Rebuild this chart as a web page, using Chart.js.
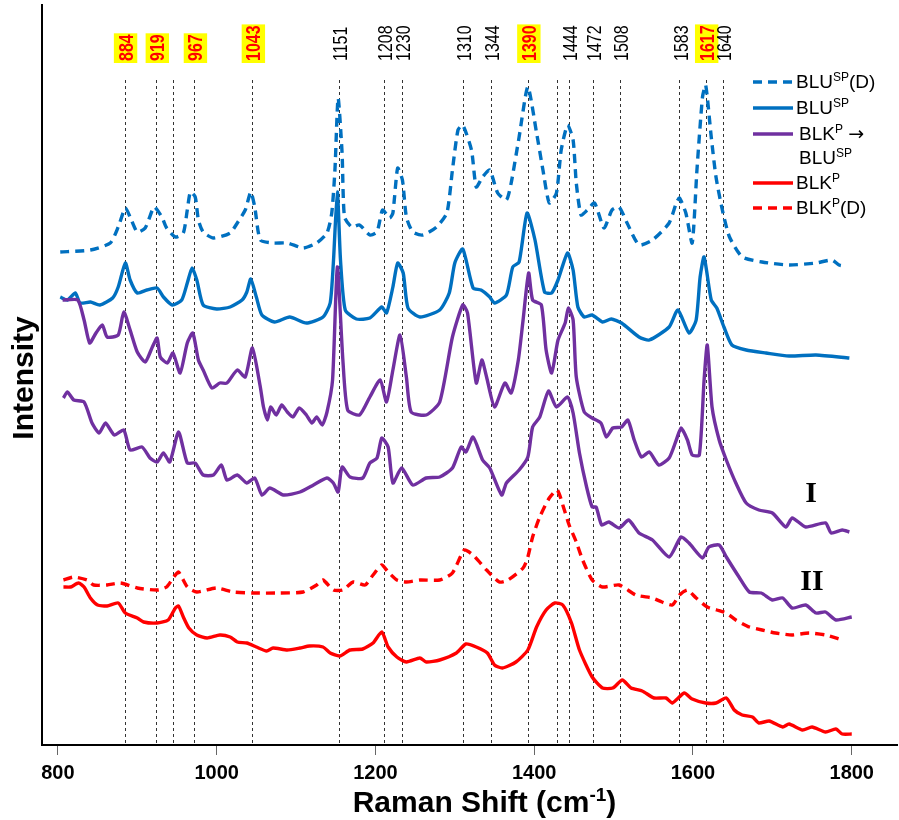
<!DOCTYPE html>
<html>
<head>
<meta charset="utf-8">
<script src="https://cdn.jsdelivr.net/npm/chart.js@4.4.0/dist/chart.umd.min.js"></script>
<style>
  html, body { margin: 0; padding: 0; background: #fff; }
</style>
</head>
<body>
<canvas id="ramanChart" width="899" height="820"></canvas>
<script>
// Raman shift axis
const tickValues = [800, 1000, 1200, 1400, 1600, 1800];

// Peak marker lines (positions as drawn) and their labels ('' = unlabeled line)
const peakPos = [884, 924, 945, 972, 1045, 1154, 1211, 1234, 1310, 1345, 1392, 1429, 1444, 1474, 1508, 1583, 1616, 1638];
const peakLabels = ['884', '919', '', '967', '1043', '1151', '1208', '1230', '1310', '1344', '1390', '', '1444', '1472', '1508', '1583', '1617', '1640'];
const peakHighlight = ['884', '919', '967', '1043', '1390', '1617'];

// BLU^SP(D) - dashed blue
const bluDX = [803,841,866,876,885,891,900,910,919,922,931,937,948,958,963,967,973,977,983,996,1017,1026,1036,1043,1048,1055,1071,1089,1109,1126,1139,1145,1149,1153,1158,1161,1170,1180,1193,1202,1209,1218,1222,1228,1234,1239,1247,1260,1277,1290,1297,1304,1310,1321,1327,1335,1344,1354,1365,1371,1381,1392,1403,1411,1419,1428,1434,1442,1449,1453,1459,1467,1476,1488,1498,1507,1517,1532,1549,1570,1579,1583,1591,1599,1605,1612,1616,1623,1629,1637,1646,1662,1687,1721,1755,1775,1784,1790];
const bluDY = [493,495,502,518,537,528,513,517,535,538,528,517,508,512,535,553,548,525,513,507,512,522,535,553,538,505,502,502,497,502,512,532,575,647,592,528,518,520,510,513,535,527,532,577,565,528,513,510,518,532,575,615,620,595,558,568,575,552,545,562,608,658,612,575,542,552,595,620,605,562,530,535,542,517,535,538,522,500,505,522,542,547,532,502,575,648,660,608,568,535,508,488,483,480,482,485,480,479];

// BLU^SP - solid blue
const bluX = [803,812,822,828,841,853,869,876,885,891,900,912,925,933,944,956,963,969,975,983,1000,1017,1032,1038,1043,1050,1057,1073,1092,1113,1134,1143,1147,1152,1156,1162,1176,1193,1208,1214,1222,1228,1235,1241,1256,1281,1293,1300,1310,1323,1333,1344,1350,1365,1373,1381,1391,1401,1413,1422,1430,1442,1449,1455,1463,1473,1486,1497,1510,1532,1545,1570,1581,1595,1604,1609,1614,1623,1630,1639,1649,1667,1692,1721,1755,1797];
const bluY = [448,445,452,442,443,440,447,458,482,465,452,455,457,448,440,445,462,477,465,440,436,438,445,453,466,448,430,423,428,422,428,442,482,553,485,435,426,427,438,432,458,482,472,437,428,435,452,482,496,457,455,448,442,450,478,483,532,505,453,452,465,492,475,438,428,430,423,426,422,408,405,418,435,412,425,468,488,445,437,418,400,395,392,389,390,387];

// BLK^P -> BLU^SP, curve I (upper purple)
const convIX = [806,825,833,840,848,856,862,876,883,891,900,910,919,925,929,938,945,954,963,970,977,983,994,1004,1013,1026,1036,1045,1055,1059,1064,1068,1075,1082,1089,1096,1104,1113,1120,1126,1133,1139,1146,1152,1159,1165,1180,1193,1206,1214,1222,1231,1239,1245,1264,1281,1297,1310,1316,1327,1334,1340,1350,1363,1371,1380,1386,1393,1398,1409,1415,1422,1430,1439,1443,1449,1453,1463,1473,1484,1491,1499,1510,1518,1526,1535,1545,1557,1570,1579,1585,1593,1599,1608,1614,1618,1624,1633,1642,1654,1667,1683,1700,1717,1725,1742,1767,1774,1788,1797];
const convIY = [445,445,425,402,412,420,408,410,433,415,393,383,398,407,388,382,392,372,402,412,385,375,357,362,362,375,368,397,358,338,325,338,330,340,333,328,337,330,322,328,320,333,365,478,385,335,330,348,365,343,375,410,368,333,330,343,408,440,432,362,385,368,338,362,352,385,425,472,445,440,395,372,405,422,437,425,368,333,327,322,308,317,318,325,305,288,293,280,287,305,317,305,290,290,365,400,338,305,285,262,242,235,232,218,227,218,222,212,215,213];

// BLK^P -> BLU^SP, curve II (lower purple)
const convIIX = [807,812,820,833,843,852,860,871,883,891,906,916,925,933,941,952,963,973,983,996,1006,1013,1026,1038,1048,1057,1067,1084,1105,1122,1139,1147,1153,1158,1168,1184,1193,1202,1208,1216,1222,1233,1247,1264,1281,1297,1308,1314,1323,1335,1344,1359,1365,1381,1392,1398,1407,1418,1428,1442,1449,1457,1466,1473,1478,1485,1494,1507,1519,1532,1549,1570,1585,1595,1612,1620,1633,1642,1658,1671,1686,1700,1713,1725,1742,1755,1767,1780,1800];
const convIIY = [347,353,345,343,322,312,322,310,315,295,298,287,283,292,283,313,282,282,270,270,280,265,270,262,267,250,257,250,253,260,267,262,253,278,268,267,282,287,307,298,262,277,260,267,268,277,298,293,308,285,277,250,262,275,288,318,328,354,338,348,332,292,258,238,238,220,223,217,225,212,205,188,208,202,187,198,200,188,168,153,152,145,147,137,140,132,133,125,128];

// BLK^P - solid red
const blkX = [807,816,826,833,841,850,862,876,885,900,908,925,939,948,952,958,965,975,988,1004,1017,1026,1038,1050,1063,1071,1089,1105,1117,1134,1143,1155,1168,1184,1197,1208,1216,1227,1239,1256,1264,1281,1302,1314,1327,1341,1350,1360,1377,1392,1403,1415,1426,1436,1447,1457,1473,1486,1499,1511,1522,1536,1551,1566,1574,1589,1599,1616,1629,1642,1652,1662,1675,1683,1696,1713,1721,1738,1750,1767,1780,1788,1800];
const blkY = [158,158,162,158,147,140,139,142,132,127,123,122,125,137,139,128,117,110,107,110,108,103,102,98,94,97,95,97,99,98,92,89,95,96,102,113,98,88,83,87,83,85,92,101,98,92,80,77,83,95,118,135,142,140,122,95,68,57,57,65,57,54,47,47,42,52,46,42,42,47,35,30,28,22,24,18,21,15,18,13,16,11,11];

// BLK^P(D) - dashed red
const blkDX = [807,820,837,845,862,879,900,925,937,946,952,963,975,1000,1021,1046,1080,1109,1126,1134,1147,1159,1172,1187,1197,1208,1216,1227,1239,1256,1281,1297,1312,1323,1340,1356,1367,1386,1392,1398,1407,1419,1429,1438,1444,1453,1461,1473,1486,1507,1528,1549,1561,1574,1583,1593,1604,1618,1630,1642,1654,1671,1687,1704,1725,1746,1767,1788];
const blkDY = [165,168,165,160,160,162,157,155,158,168,173,158,153,157,153,152,152,153,160,165,155,155,163,160,170,180,173,165,163,165,165,172,195,190,175,163,165,177,188,208,228,247,255,235,220,203,185,165,158,160,150,147,143,140,150,155,147,138,135,132,125,118,115,112,110,112,110,105];

const BLUE = '#0070C0', PURPLE = '#7030A0', RED = '#FF0000';
const DASH = [9, 6];
const FONT = 'Arial, "Liberation Sans", sans-serif';

// Legend entries (^{..} = superscript)
const legendItems = [
  { lines: ['BLU^{SP}(D)'], color: BLUE, dash: DASH },
  { lines: ['BLU^{SP}'], color: BLUE, dash: [] },
  { lines: ['BLK^{P} \u2192', 'BLU^{SP}'], color: PURPLE, dash: [] },
  { lines: ['BLK^{P}'], color: RED, dash: [] },
  { lines: ['BLK^{P}(D)'], color: RED, dash: DASH }
];

function pts(xs, ys) { return xs.map((x, i) => ({ x: x, y: ys[i] })); }

function series(xs, ys, color, dash, order) {
  return { data: pts(xs, ys), borderColor: color, borderDash: dash, borderWidth: 3.4,
    pointRadius: 0, tension: 0.2, fill: false, order: order, borderCapStyle: 'butt', borderJoinStyle: 'round' };
}

function splitRich(str) {
  return str.split(/(\^\{[^}]*\}|\u2192)/).filter(p => p).map(p => {
    if (p.startsWith('^{')) return { t: p.slice(2, -1), sup: true };
    if (p === '\u2192') return { t: p, arrow: true };
    return { t: p };
  });
}

function setSegFont(ctx, seg, size, weight) {
  if (seg.arrow) ctx.font = `${size}px "DejaVu Sans", sans-serif`;
  else ctx.font = `${weight} ${seg.sup ? Math.round(size * 0.64) : size}px ${FONT}`;
}

// draw text with ^{..} superscripts
function drawRich(ctx, str, x, y, size, weight) {
  splitRich(str).forEach(seg => {
    setSegFont(ctx, seg, size, weight);
    ctx.fillText(seg.t, x, seg.sup ? y - size * 0.36 : y);
    x += ctx.measureText(seg.t).width;
  });
  return x;
}

function richWidth(ctx, str, size, weight) {
  let w = 0;
  splitRich(str).forEach(seg => {
    setSegFont(ctx, seg, size, weight);
    w += ctx.measureText(seg.t).width;
  });
  return w;
}

const overlay = {
  id: 'overlay',
  beforeDatasetsDraw(chart) {
    const { ctx, chartArea, scales: { x } } = chart;
    ctx.save();
    ctx.strokeStyle = '#333';
    ctx.lineWidth = 1;
    ctx.setLineDash([3, 3]);
    peakPos.forEach(p => {
      const px = Math.round(x.getPixelForValue(p)) + 0.5;
      ctx.beginPath();
      ctx.moveTo(px, 80);
      ctx.lineTo(px, chartArea.bottom);
      ctx.stroke();
    });
    ctx.restore();
  },
  afterDraw(chart) {
    const { ctx, chartArea, scales: { x } } = chart;
    ctx.save();

    // peak labels, rotated
    peakPos.forEach((p, i) => {
      const lab = peakLabels[i];
      if (!lab) return;
      const px = x.getPixelForValue(p) + 1;
      const hi = peakHighlight.includes(lab);
      ctx.save();
      ctx.translate(px, 62);
      ctx.rotate(-Math.PI / 2);
      ctx.scale(1, 1.3);
      ctx.font = `${hi ? 'bold ' : ''}16px ${FONT}`;
      const w = ctx.measureText(lab).width;
      if (hi) {
        ctx.fillStyle = '#FFFF00';
        ctx.fillRect(-1, -9, w + 3, 18);
      }
      ctx.fillStyle = hi ? RED : '#000';
      ctx.textAlign = 'left';
      ctx.textBaseline = 'middle';
      ctx.fillText(lab, 1, 1);
      ctx.restore();
    });

    // legend
    const lineYs = [82, 108, 134, 183, 208];
    ctx.textBaseline = 'alphabetic';
    ctx.textAlign = 'left';
    legendItems.forEach((it, i) => {
      const ly = lineYs[i];
      ctx.strokeStyle = it.color;
      ctx.lineWidth = 3.5;
      ctx.setLineDash(it.dash);
      ctx.beginPath();
      ctx.moveTo(753, ly);
      ctx.lineTo(793, ly);
      ctx.stroke();
      ctx.setLineDash([]);
      ctx.fillStyle = '#000';
      it.lines.forEach((ln, k) => {
        drawRich(ctx, ln, it.lines.length > 1 ? 799 : 796, ly + 6 + k * 24, 19, 'normal');
      });
    });

    // curve tags
    ctx.fillStyle = '#000';
    ctx.textAlign = 'center';
    ctx.font = 'bold 30px "Liberation Serif", "Times New Roman", serif';
    ctx.fillText('I', 811, 502);
    ctx.fillText('II', 812, 590);

    // x axis title
    ctx.textAlign = 'left';
    const title = 'Raman Shift (cm^{-1})';
    const tw = richWidth(ctx, title, 30, 'bold');
    drawRich(ctx, title, (chartArea.left + chartArea.right) / 2 + 15 - tw / 2, 812, 30, 'bold');

    // y axis title
    ctx.save();
    ctx.translate(33, 378);
    ctx.rotate(-Math.PI / 2);
    ctx.textAlign = 'center';
    ctx.font = `bold 30px ${FONT}`;
    ctx.fillText('Intensity', 0, 0);
    ctx.restore();

    ctx.restore();
  }
};

new Chart(document.getElementById('ramanChart'), {
  type: 'line',
  data: {
    datasets: [
      series(bluDX, bluDY, BLUE, DASH, 6),
      series(bluX, bluY, BLUE, [], 5),
      series(convIX, convIY, PURPLE, [], 3),
      series(convIIX, convIIY, PURPLE, [], 4),
      series(blkDX, blkDY, RED, DASH, 2),
      series(blkX, blkY, RED, [], 1)
    ]
  },
  options: {
    responsive: false,
    animation: false,
    devicePixelRatio: 1,
    layout: { padding: { top: 5, right: 2, left: 0, bottom: 0 } },
    plugins: { legend: { display: false }, tooltip: { enabled: false } },
    scales: {
      x: {
        type: 'linear',
        min: 780,
        max: 1857,
        afterBuildTicks: s => { s.ticks = tickValues.map(v => ({ value: v })); },
        afterFit: s => { s.height = 75; },
        ticks: { color: '#000', padding: 6, maxRotation: 0, autoSkip: false,
          font: { family: FONT, size: 20, weight: 'bold' },
          callback: v => String(v) },
        grid: { drawOnChartArea: false, drawTicks: true, tickLength: 10, color: '#666', lineWidth: 1 },
        border: { display: true, color: '#000', width: 2 }
      },
      y: {
        min: 0,
        max: 740,
        afterFit: s => { s.width = 42; },
        ticks: { display: false },
        grid: { display: false },
        border: { display: true, color: '#000', width: 2 }
      }
    }
  },
  plugins: [overlay]
});
</script>
</body>
</html>
